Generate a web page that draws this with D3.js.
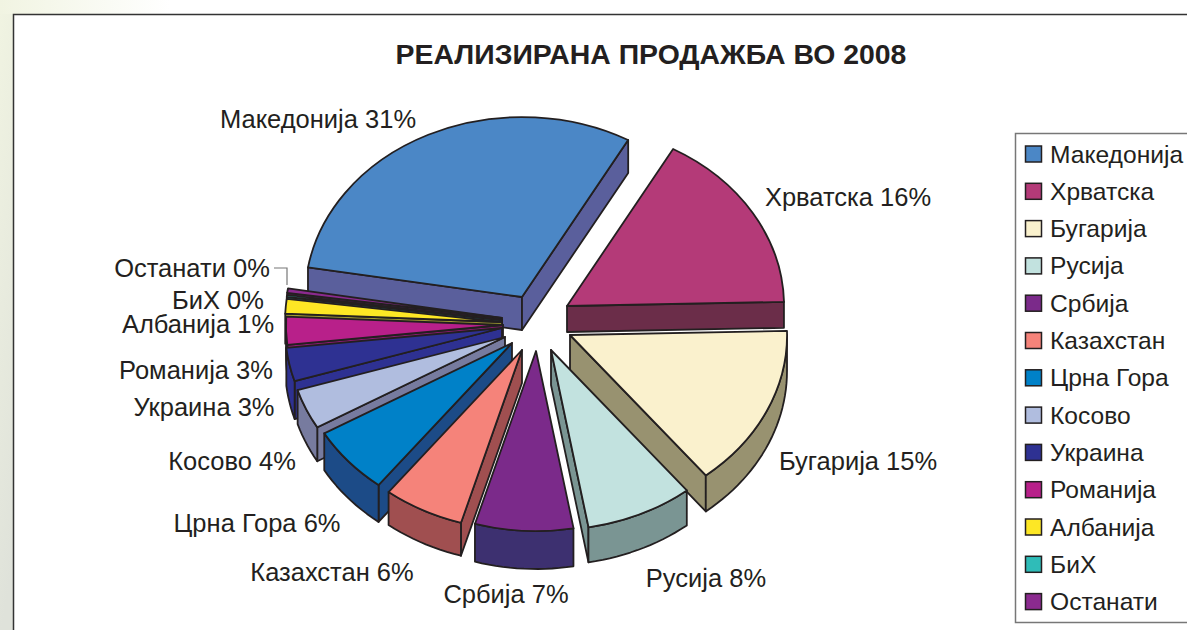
<!DOCTYPE html>
<html><head><meta charset="utf-8">
<script src="https://cdn.jsdelivr.net/npm/d3@7/dist/d3.min.js"></script>
<style>html,body{margin:0;padding:0;background:#fff;overflow:hidden}svg{display:block}text{font-family:"Liberation Sans",Arial,sans-serif;fill:#231f20}</style>
</head><body><svg id="c" width="1187" height="630"></svg>
<script>
// ---- data ----
const categories = ["Македонија","Хрватска","Бугарија","Русија","Србија","Казахстан","Црна Гора","Косово","Украина","Романија","Албанија","БиХ","Останати"];
const shares = [30.5,16.49,14.61,8.0,7.3,6.0,6.1,3.6,3.0,2.5,1.3,0.2,0.4];
const title = "РЕАЛИЗИРАНА ПРОДАЖБА ВО 2008";
// ---- style ----
const topColors  = ["#4b87c6","#b43a78","#faf1cd","#c2e2df","#7b2a8a","#f5837a","#0081c8","#b0bddf","#2e3192","#b8208a","#fde725","#2fbcb8","#8b2a8f"];
const sideColors = ["#5a5f9c","#6b2d49","#989270","#7a9593","#3d3070","#a04f50","#1c4b87","#777b9f","#2e3192","#8a1a70","#a09a30","#1f7a78","#5c1c60"];
// ---- layout ----
const center = [527,325], rx = 217, ry = 180, outline = "#231f20";
const explodeX = [-5,40,43,24,9,-5,-15,-22,-25,-24,-25,-25,-25];
const explodeY = [-28,-19,10,25,26,25,18,12,3,0,-3,-5,-7];
const depths = [33,26,36,35,38,33,37,34,38,30,30,30,30];
const labelX = [318,848,858,706,506,332,257,232,204,196,198,218,192];
const labelY = [128,206,470,587,603,581,532,470,416,379,333,309,277];
const legendTop = 154, legendStep = 37.3;

const svg = d3.select("#c");
const defs = svg.append("defs");
const g1 = defs.append("linearGradient").attr("id","bg").attr("x1",0).attr("y1",0).attr("x2",0.12).attr("y2",1);
g1.append("stop").attr("offset",0).attr("stop-color","#f1f4e2");
g1.append("stop").attr("offset",1).attr("stop-color","#dfe2da");
const g2 = defs.append("linearGradient").attr("id","bgTop").attr("x1",0).attr("x2",1).attr("y1",0).attr("y2",0);
g2.append("stop").attr("offset",0).attr("stop-color","#f1f4e2");
g2.append("stop").attr("offset",1).attr("stop-color","#ffffff");
svg.append("rect").attr("width",1187).attr("height",630).attr("fill","#fff");
svg.append("rect").attr("x",0).attr("y",0).attr("width",13).attr("height",630).attr("fill","url(#bg)");
svg.append("rect").attr("x",0).attr("y",0).attr("width",170).attr("height",14).attr("fill","url(#bgTop)");
svg.append("rect").attr("x",13.5).attr("y",14.5).attr("width",1190).attr("height",640).attr("fill","#fff").attr("stroke","#333").attr("stroke-width",1.5);

svg.append("text").attr("x",651).attr("y",63.5).attr("text-anchor","middle").attr("font-weight","bold").attr("font-size",28.4).text(title);

const rad = d => d*Math.PI/180;
const arcs = d3.pie().sort(null).startAngle(rad(-80.5)).endAngle(rad(279.5)).value(d=>d)(shares);
const slices = arcs.map((a,i)=>({...a,i,
  ox:center[0]+explodeX[i], oy:center[1]+explodeY[i], depth:depths[i]}));
const mid = s => (s.startAngle+s.endAngle)/2;
const order = slices.slice().sort((a,b)=>Math.cos(mid(b))-Math.cos(mid(a)));
const px = (s,a)=>[s.ox+rx*Math.sin(a), s.oy-ry*Math.cos(a)];
const line = d3.line();
const topArc = d3.arc().innerRadius(0).outerRadius(1);

const pie = svg.append("g").attr("stroke",outline).attr("stroke-width",1.8).attr("stroke-linejoin","round");
order.forEach(s=>{
  const g = pie.append("g"), side = sideColors[s.i];
  const wall = a=>{
    const p = px(s,a);
    g.append("path").attr("fill",side).attr("d",line([[s.ox,s.oy],p,[p[0],p[1]+s.depth],[s.ox,s.oy+s.depth]])+"Z");
  };
  if (Math.sin(s.startAngle)<0) wall(s.startAngle);
  if (Math.sin(s.endAngle)>0) wall(s.endAngle);
  const a0 = Math.max(s.startAngle,rad(90)), a1 = Math.min(s.endAngle,rad(270));
  if (a1>a0){
    const n = Math.max(2,Math.ceil((a1-a0)/rad(2)));
    const up = d3.range(n+1).map(k=>px(s,a0+(a1-a0)*k/n));
    const down = up.map(p=>[p[0],p[1]+s.depth]).reverse();
    g.append("path").attr("fill",side).attr("d",line(up.concat(down))+"Z");
  }
  g.append("path").attr("fill",topColors[s.i])
    .attr("vector-effect","non-scaling-stroke")
    .attr("transform",`translate(${s.ox},${s.oy}) scale(${rx},${ry})`)
    .attr("d",topArc(s));
});

svg.append("path").attr("fill","none").attr("stroke","#777").attr("stroke-width",1.2)
  .attr("d",line([[274,268],[287,268],[287,285]]));

svg.append("g").selectAll("text").data(categories).join("text")
  .attr("x",(d,i)=>labelX[i]).attr("y",(d,i)=>labelY[i]).attr("text-anchor","middle")
  .attr("font-size",25.5).text((d,i)=>`${d} ${Math.round(shares[i])}%`);

svg.append("rect").attr("x",1015.5).attr("y",133.5).attr("width",220).attr("height",489).attr("fill","#fff").attr("stroke","#777").attr("stroke-width",1.5);
const row = svg.append("g").selectAll("g").data(categories).join("g")
  .attr("transform",(d,i)=>`translate(0,${legendTop+i*legendStep})`);
row.append("rect").attr("x",1025.5).attr("y",-8).attr("width",16).attr("height",16)
  .attr("fill",(d,i)=>topColors[i]).attr("stroke",outline).attr("stroke-width",1.5);
row.append("text").attr("x",1050).attr("y",8.5).attr("font-size",24.6).text(d=>d);
</script></body></html>
